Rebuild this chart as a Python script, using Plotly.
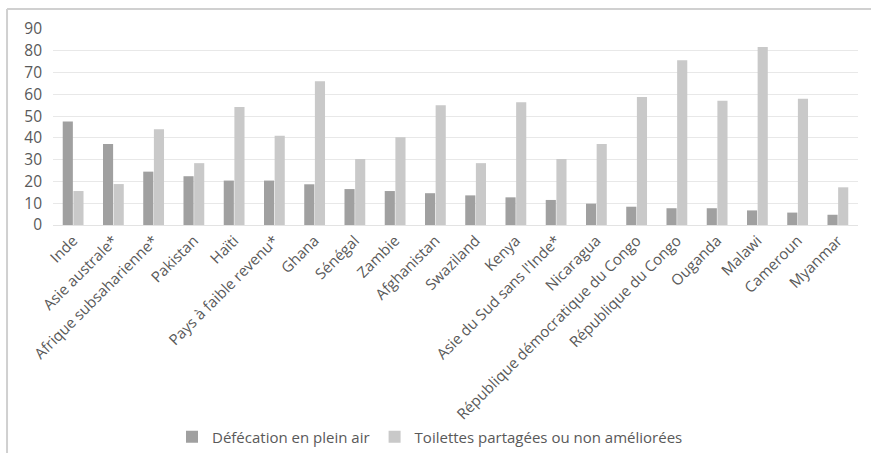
import plotly.graph_objects as go

categories = ["Inde", "Asie australe*", "Afrique subsaharienne*", "Pakistan", "Haïti",
              "Pays à faible revenu*", "Ghana", "Sénégal", "Zambie", "Afghanistan",
              "Swaziland", "Kenya", "Asie du Sud sans l'Inde*", "Nicaragua",
              "République démocratique du Congo", "République du Congo", "Ouganda",
              "Malawi", "Cameroun", "Myanmar"]
open_defecation = [47.5, 37.2, 24.5, 22.4, 20.4, 20.4, 18.7, 16.5, 15.6, 14.6,
                   13.6, 12.7, 11.5, 9.8, 8.4, 7.7, 7.7, 6.7, 5.7, 4.7]
shared_toilets = [15.6, 18.8, 44.0, 28.4, 54.2, 41.0, 66.0, 30.3, 40.3, 55.0,
                  28.4, 56.4, 30.3, 37.2, 58.8, 75.7, 57.1, 81.7, 58.0, 17.3]
series_names = ["Défécation en plein air", "Toilettes partagées ou non améliorées"]
y_ticks = [0, 10, 20, 30, 40, 50, 60, 70, 80, 90]

fig = go.Figure()
fig.add_trace(go.Bar(x=categories, y=open_defecation, name=series_names[0],
                     marker=dict(color="#a0a0a0", line=dict(width=0))))
fig.add_trace(go.Bar(x=categories, y=shared_toilets, name=series_names[1],
                     marker=dict(color="#c9c9c9", line=dict(width=0))))

fig.update_layout(
    width=871, height=453,
    margin=dict(l=53, r=13, t=29, b=228, autoexpand=False),
    paper_bgcolor="white", plot_bgcolor="white",
    font=dict(family="Open Sans, sans-serif", size=14, color="#595959"),
    barmode="group", bargap=0.47, bargroupgap=0.05,
    showlegend=True,
    legend=dict(orientation="h", xref="container", yref="container",
                x=172 / 871, xanchor="left", y=1 - 437 / 453, yanchor="middle",
                font=dict(size=15, color="#595959"), traceorder="normal",
                itemwidth=30),
    xaxis=dict(tickangle=-45, showgrid=False, showline=True, linecolor="#e3e3e3",
               linewidth=1, ticks="", automargin=False,
               tickfont=dict(size=15, color="#595959")),
    yaxis=dict(range=[0, 90], tickvals=y_ticks, showgrid=True, gridcolor="#e8e8e8",
               gridwidth=1, zeroline=False, showline=False, ticks="", automargin=False,
               tickfont=dict(size=15.5, color="#595959"), ticklabelstandoff=10),
)

# outer chart frame (left and top edges)
fig.add_shape(type="line", xref="paper", yref="paper", x0=-0.0571, x1=1.02,
              y0=1.102, y1=1.102, line=dict(color="#d0d0d0", width=2))
fig.add_shape(type="line", xref="paper", yref="paper", x0=-0.0571, x1=-0.0571,
              y0=1.102, y1=-1.2, line=dict(color="#d0d0d0", width=2))

fig.write_html("out.html")
